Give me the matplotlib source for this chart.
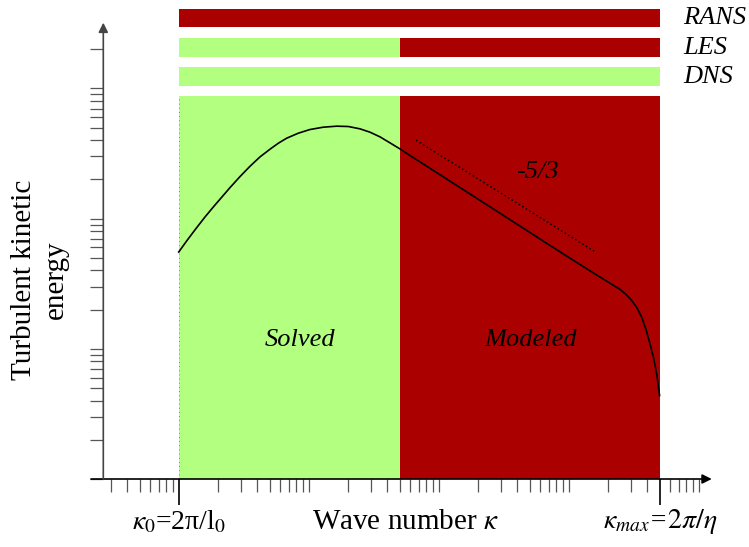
import matplotlib
matplotlib.use("Agg")
import matplotlib.pyplot as plt
import numpy as np

plt.rcParams['font.family'] = ['Liberation Serif', 'DejaVu Serif']
plt.rcParams['mathtext.fontset'] = 'stix'

GREEN = '#b3ff80'
RED = '#aa0000'

# wave numbers (kappa_0 = 1)
k0 = 1.0
k_les = 50.0
k_max = 5000.0

# spectrum, as log10 values
log_k = [0.0, 0.0664, 0.1382, 0.2023, 0.2664, 0.3305, 0.3946, 0.4715, 0.5485,
         0.6254, 0.7023, 0.7664, 0.8305, 0.9202, 1.0100, 1.1125, 1.2152, 1.3048,
         1.3946, 1.4715, 1.5485, 1.6254, 1.7100, 1.7792, 1.8562, 2.3946, 2.9331,
         3.1892, 3.3946, 3.4408, 3.4846, 3.5254, 3.5615, 3.5946, 3.6254, 3.6523,
         3.6769, 3.699]
log_E = [-1.2567, -1.1644, -1.0695, -0.9875, -0.9105, -0.8362, -0.7618, -0.6772,
         -0.5977, -0.5259, -0.4669, -0.4208, -0.3823, -0.3438, -0.3156, -0.2977,
         -0.2900, -0.2925, -0.3105, -0.3362, -0.3721, -0.4182, -0.4695, -0.5156,
         -0.5644, -0.9092, -1.2554, -1.4169, -1.5438, -1.5823, -1.6285, -1.6862,
         -1.7569, -1.8515, -1.9615, -2.0669, -2.1923, -2.3592]

# -5/3 guide line
k_slope = [66.9, 1613]
E_slope = [0.400, 0.0553]

# model bars: name, end of the resolved part, y range
models = ['RANS', 'LES', 'DNS']
solved_to = [k0, k_les, k_max]
bar_lo = [2.94, 1.75, 1.047]
bar_hi = [4.05, 2.42, 1.45]

# main region
E_bottom = 1e-3
E_top = 0.873

fig = plt.figure(figsize=(7.49, 5.47), dpi=100)
ax = fig.add_axes([0.11727, 0.12431, 0.84614, 0.86951])
ax.set_xscale('log')
ax.set_yscale('log')
ax.set_xlim(0.2, 15000)
ax.set_ylim(1e-3, 4.5)
ax.patch.set_visible(False)

# main region
ax.fill_between([k0, k_les], E_bottom, E_top, color=GREEN, lw=0)
ax.fill_between([k_les, k_max], E_bottom, E_top, color=RED, lw=0)
ax.plot([k0, k0], [E_bottom, E_top], color='#5c7a4a', lw=0.6, ls=(0, (1, 4)))

# bars
for name, ks, lo, hi in zip(models, solved_to, bar_lo, bar_hi):
    if ks > k0:
        ax.fill_between([k0, ks], lo, hi, color=GREEN, lw=0)
    if ks < k_max:
        ax.fill_between([ks, k_max], lo, hi, color=RED, lw=0)
    ax.text(7572, (lo * hi) ** 0.5, name, fontsize=19, style='italic',
            ha='left', va='center')

ax.plot(10 ** np.array(log_k), 10 ** np.array(log_E), color='black', lw=1.2)
ax.plot(k_slope, E_slope, color='black', lw=1.0, ls=(0, (1.2, 1.8)))

ax.text(8.57, 0.0116, 'Solved', fontsize=19, style='italic', ha='center', va='center')
ax.text(513, 0.0116, 'Modeled', fontsize=19, style='italic', ha='center', va='center')
ax.text(570, 0.227, '-5/3', fontsize=19, style='italic', ha='center', va='center')

# axes with arrows
y_axis_x = 0.263
for s in ax.spines.values():
    s.set_visible(False)
ax.spines['left'].set_position(('data', y_axis_x))
ax.annotate('', xy=(12600, E_bottom), xytext=(0.2115, E_bottom),
            arrowprops=dict(arrowstyle='-|>', color='black', lw=1.2,
                            mutation_scale=14, shrinkA=0, shrinkB=0),
            annotation_clip=False)
ax.annotate('', xy=(y_axis_x, 3.2), xytext=(y_axis_x, E_bottom),
            arrowprops=dict(arrowstyle='-|>', color='#444444', lw=1.2,
                            mutation_scale=14, shrinkA=0, shrinkB=0),
            annotation_clip=False)

# ticks
x_minor = [m * 10.0 ** d for d in range(-1, 4) for m in range(1, 10)
           if not (d == -1 and m < 3)] + [10000]
x_minor = [v for v in x_minor if v not in (k0, k_max)]
y_minor = [m * 10.0 ** d for d in range(-3, 0) for m in range(1, 10)] + [1.0, 2.0]
ax.set_xticks([k0, k_max])
ax.set_xticks(x_minor, minor=True)
ax.set_yticks([])
ax.set_yticks(y_minor, minor=True)
ax.tick_params(which='both', direction='out', labelbottom=False, labelleft=False)
ax.tick_params(which='minor', length=9.4, width=0.9, color='#555555')
ax.tick_params(axis='x', which='major', length=19, width=1.2, color='black')

fig.text(178.5 / 749, 1 - 522 / 547, r'$\kappa_0$=2π/l$_0$', fontsize=20,
         ha='center', va='center')
fig.text(405 / 749, 1 - 522 / 547, r'Wave number $\kappa$', fontsize=21,
         ha='center', va='center')
fig.text(660 / 749, 1 - 522 / 547, r'$\kappa_{max}$=$2\pi/\eta$', fontsize=20,
         style='italic', ha='center', va='center')
fig.text(40 / 749, 1 - 280 / 547, 'Turbulent kinetic\nenergy', fontsize=21,
         rotation=90, ha='center', va='center', multialignment='center',
         linespacing=1.25)

fig.savefig('out.png', dpi=100)
